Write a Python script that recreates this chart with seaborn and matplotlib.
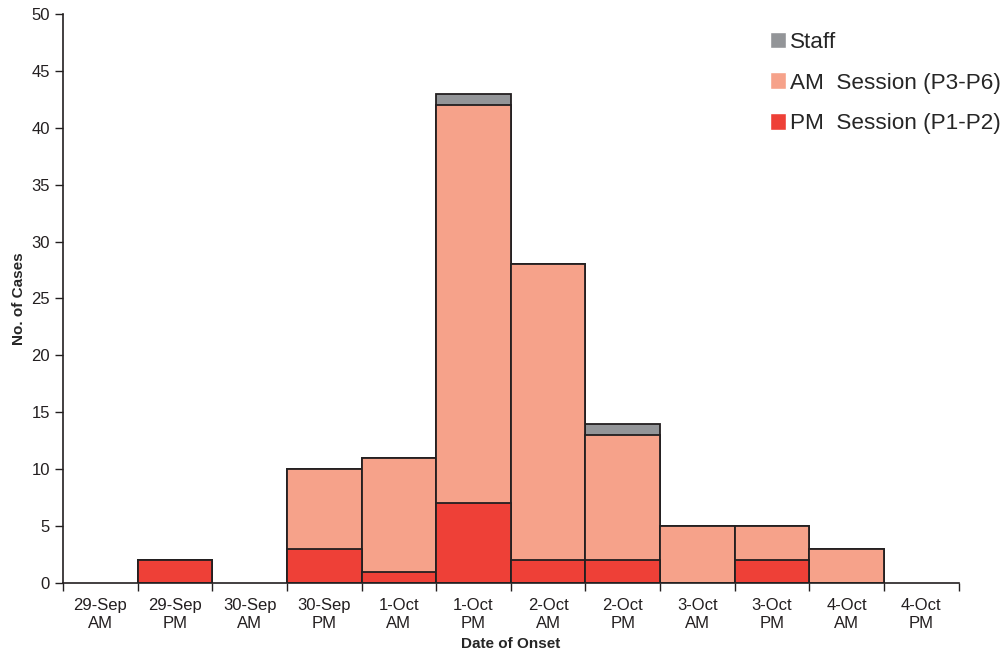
import numpy as np
import pandas as pd
import seaborn as sns
import matplotlib.pyplot as plt
from matplotlib.patches import Patch

# data
periods = ['29-Sep\nAM', '29-Sep\nPM', '30-Sep\nAM', '30-Sep\nPM', '1-Oct\nAM', '1-Oct\nPM',
           '2-Oct\nAM', '2-Oct\nPM', '3-Oct\nAM', '3-Oct\nPM', '4-Oct\nAM', '4-Oct\nPM']
pm_session = [0, 2, 0, 3, 1, 7, 2, 2, 0, 2, 0, 0]
am_session = [0, 0, 0, 7, 10, 35, 26, 11, 5, 3, 3, 0]
staff = [0, 0, 0, 0, 0, 1, 0, 1, 0, 0, 0, 0]

c_staff = '#939598'
c_am = '#F6A28A'
c_pm = '#EE4037'
edge = '#231F20'

df = pd.DataFrame({'period': periods, 'pm': pm_session, 'am': am_session, 'staff': staff})
df['am_top'] = df['pm'] + df['am']
df['staff_top'] = df['am_top'] + df['staff']

sns.set_style('ticks')
plt.rcParams['font.family'] = ['Liberation Sans', 'DejaVu Sans']

fig = plt.figure(figsize=(10.03, 6.51), dpi=100)
ax = fig.add_axes([0.0628, 0.1045, 0.893, 0.874])

# stacked bars: draw cumulative totals back to front
for col, c in [('staff_top', c_staff), ('am_top', c_am), ('pm', c_pm)]:
    vals = df[col].where(df[col] > 0)
    sns.barplot(x=df['period'], y=vals, color=c, width=1.0, edgecolor=edge,
                linewidth=1.3, saturation=1, ax=ax, order=periods)

ax.set_xlim(-0.5, len(periods) - 0.5)
ax.set_ylim(0, 50)
ax.set_yticks(range(0, 51, 5))
ax.set_xticks(np.arange(-0.5, len(periods), 1.0))
ax.set_xticklabels([])
ax.set_xticks(range(len(periods)), minor=True)
ax.set_xticklabels(periods, minor=True, linespacing=1.25)
ax.tick_params(axis='x', which='minor', length=0, pad=11, labelsize=12, colors='#231F20')
ax.tick_params(axis='x', which='major', length=6, width=1, color='#231F20')
ax.tick_params(axis='y', length=6, width=1, labelsize=12, colors='#231F20')
for s in ['left', 'bottom']:
    ax.spines[s].set_color('#231F20')
    ax.spines[s].set_linewidth(1.2)
sns.despine(ax=ax)

ax.set_xlabel('Date of Onset', fontweight='bold', fontsize=11, labelpad=4)
ax.set_ylabel('No. of Cases', fontweight='bold', fontsize=11, labelpad=4)

handles = [Patch(facecolor=c_staff, label='Staff'),
           Patch(facecolor=c_am, label='AM  Session (P3-P6)'),
           Patch(facecolor=c_pm, label='PM  Session (P1-P2)')]
ax.legend(handles=handles, loc='upper right', bbox_to_anchor=(1.057, 0.985), frameon=False,
          fontsize=16.2, handlelength=0.75, handleheight=0.75, handletextpad=0.15,
          labelspacing=0.88, borderaxespad=0)

fig.savefig('out.png', dpi=100)
